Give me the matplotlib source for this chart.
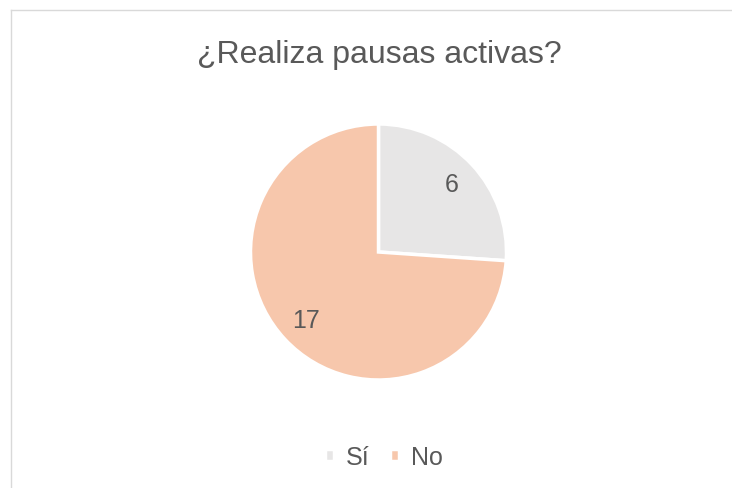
import matplotlib
matplotlib.use("Agg")
import matplotlib.pyplot as plt
from matplotlib.lines import Line2D

categories = ["Sí", "No"]
values = [6, 17]
colors = ["#E7E6E6", "#F7C7AC"]
title = "¿Realiza pausas activas?"

plt.rcParams["font.family"] = ["Liberation Sans", "DejaVu Sans"]
TEXT = "#595959"

W, H = 732, 489
fig = plt.figure(figsize=(W / 100, H / 100), dpi=100)

# chart area border: only left and top edges show in the reference crop
bx, by = 10.5 / W, 1 - 10.5 / H
fig.add_artist(Line2D([bx, bx], [0, by], transform=fig.transFigure,
                      color="#D9D9D9", lw=1))
fig.add_artist(Line2D([bx, 1], [by, by], transform=fig.transFigure,
                      color="#D9D9D9", lw=1))

cx, cy, r = 378.5, 253, 128
ax = fig.add_axes([(cx - r) / W, (H - cy - r) / H, 2 * r / W, 2 * r / H])
total = sum(values)
wedges, texts, autotexts = ax.pie(
    values, colors=colors, startangle=90, counterclock=False,
    autopct=lambda p: f"{round(p * total / 100)}", pctdistance=0.78,
    wedgeprops=dict(edgecolor="white", linewidth=2.5),
    textprops=dict(color=TEXT, fontsize=18))
ax.set_xlim(-1.0, 1.0)
ax.set_ylim(-1.0, 1.0)
ax.set_aspect("equal")

fig.text(379 / W, 1 - 63 / H, title, ha="center", va="baseline",
         fontsize=23, color=TEXT)

fig.legend(wedges, categories, loc="center",
           bbox_to_anchor=(384 / W, 1 - 458 / H), ncol=2, frameon=False,
           handlelength=0.35, handleheight=0.35, handletextpad=0.5,
           columnspacing=0.8, labelcolor=TEXT, fontsize=18)

fig.savefig("out.png", dpi=100)
